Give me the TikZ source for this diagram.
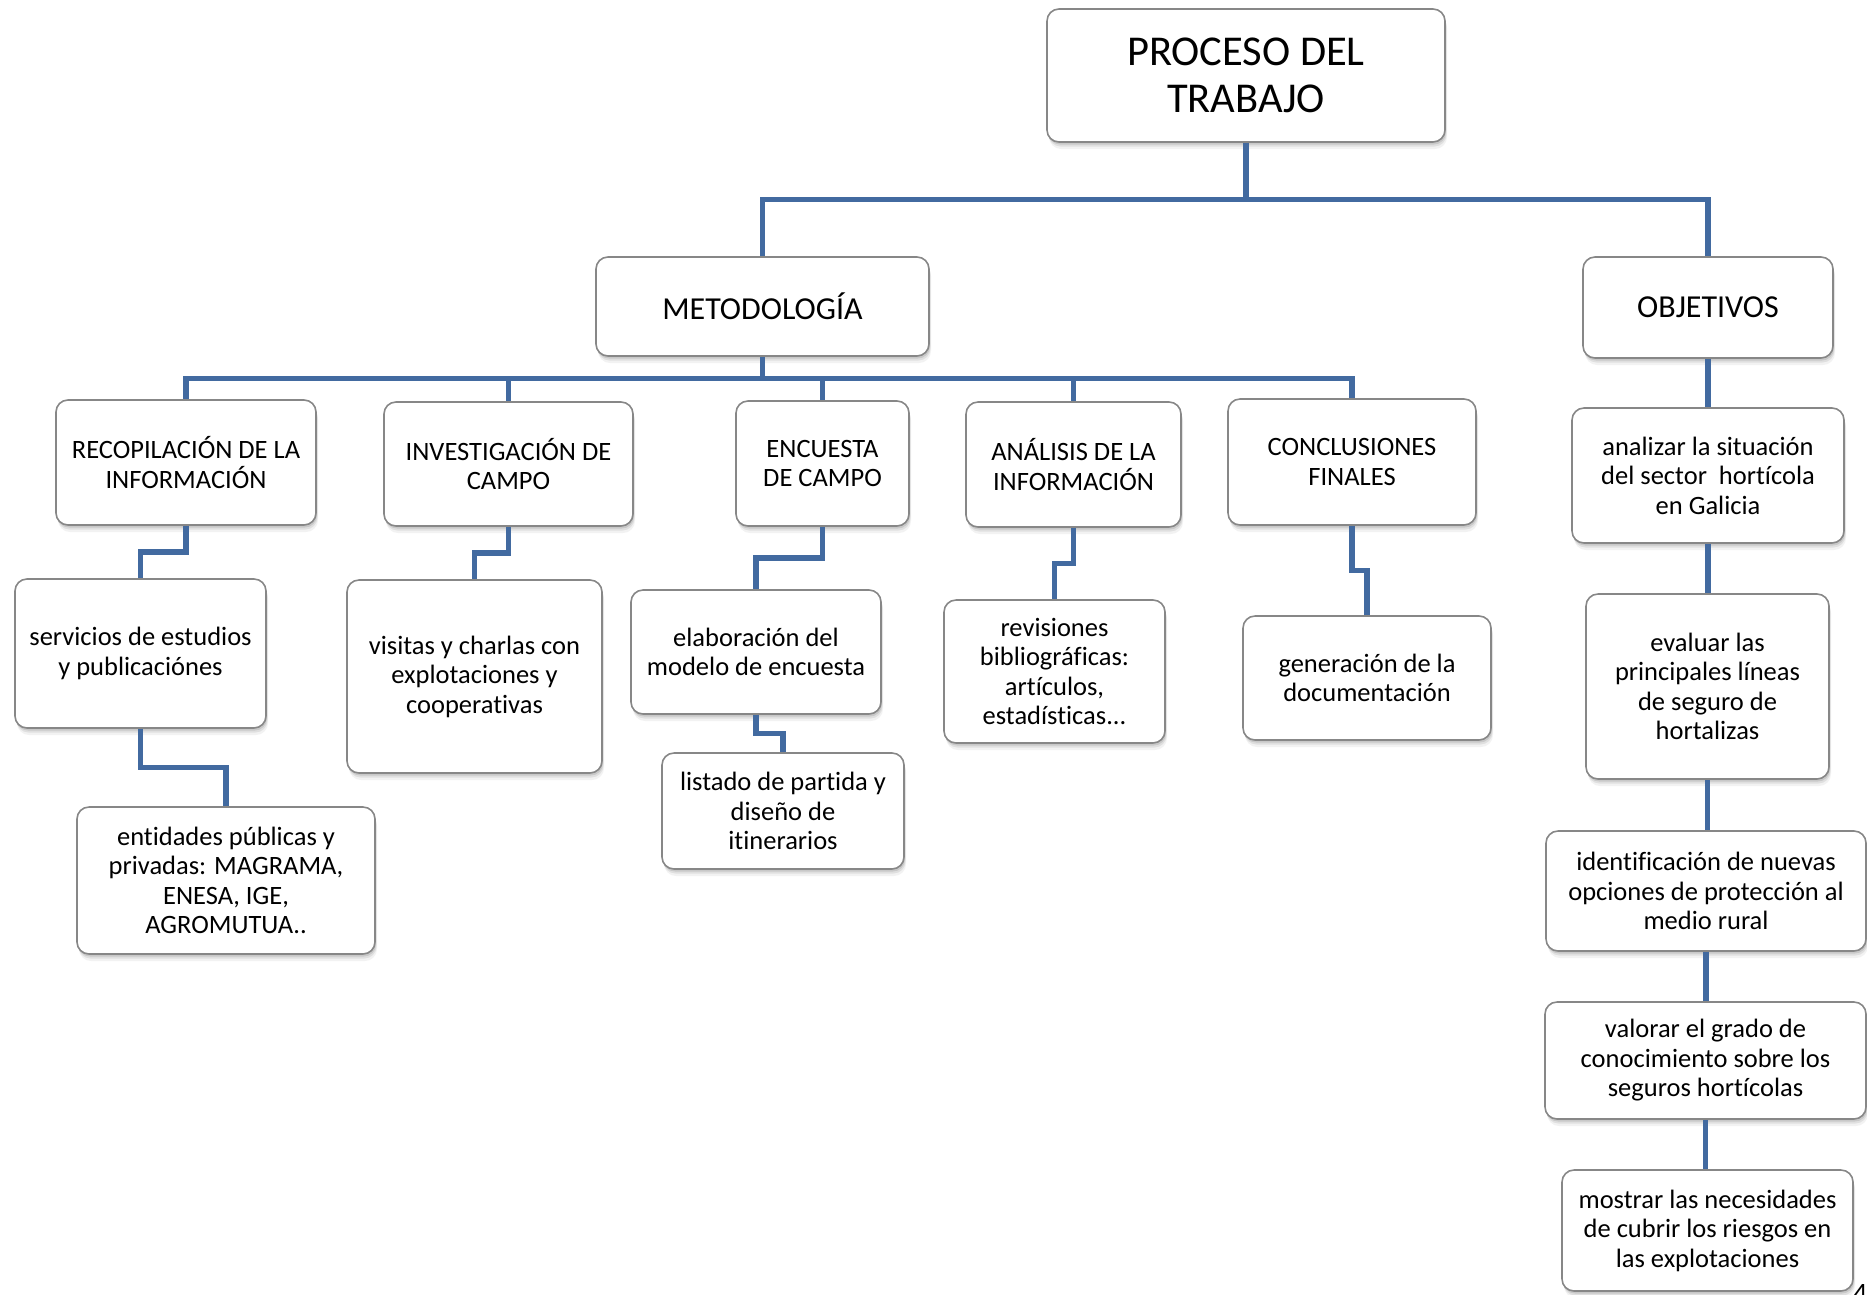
\documentclass[tikz,border=0pt]{standalone}
\usepackage{fontspec}
\setmainfont{Carlito}[Ligatures=CommonOff]
\usetikzlibrary{calc}
\definecolor{linkblue}{RGB}{66,106,160}
\definecolor{boxedge}{RGB}{135,135,135}
\tikzset{
  softshadow/.style={
    preaction={fill=black,opacity=0.10,transform canvas={xshift=1pt,yshift=-2.5pt}},
    preaction={fill=black,opacity=0.08,transform canvas={xshift=1.5pt,yshift=-4.5pt}},
    preaction={fill=black,opacity=0.05,transform canvas={xshift=2pt,yshift=-7pt}}},
  box/.style={softshadow,draw=boxedge,line width=1.6pt,fill=white,rounded corners=12pt,
    inner sep=0pt,align=center,font=\fontsize{26.5}{29.5}\selectfont},
  toplevel/.style={box,font=\fontsize{42.5}{47}\selectfont},
  midlevel/.style={box,font=\fontsize{32}{38}\selectfont},
  conn/.style={draw=linkblue,line width=5.5pt}
}
% a box given by its left, right, top and bottom edges
\newcommand{\boxat}[6]{% style, name, left, right, top, bottom
  \node[#1,minimum width={#4-#3},minimum height={#6-#5}] (#2) at ({(#3+#4)/2},{(#5+#6)/2})}
\begin{document}
\begin{tikzpicture}[x=1pt,y=-1pt]
\useasboundingbox (0,0) rectangle (1867,1294);

% heights of the two horizontal buses
\coordinate (busA) at (0,199.5);
\coordinate (busB) at (0,378.5);

% top level
\boxat{toplevel}{proc}{1047}{1445}{9}{142} {PROCESO DEL\\TRABAJO};
\boxat{midlevel}{met}{596}{929}{257}{356} {METODOLOGÍA};
\boxat{midlevel}{obj}{1583}{1833}{257}{358} {OBJETIVOS};

% methodology steps
\boxat{box}{reco}{56}{316}{400}{525} {RECOPILACIÓN DE LA\\INFORMACIÓN};
\boxat{box}{inv}{384}{633}{402}{526} {INVESTIGACIÓN DE\\CAMPO};
\boxat{box}{enc}{736}{909}{401}{526} {ENCUESTA\\DE CAMPO};
\boxat{box}{ana}{966}{1181}{402}{527} {ANÁLISIS DE LA\\INFORMACIÓN};
\boxat{box}{con}{1228}{1476}{399}{525} {CONCLUSIONES\\FINALES};

\boxat{box}{serv}{15}{266}{579}{728} {servicios de estudios\\y publicaciónes};
\boxat{box}{ent}{77}{375}{807}{954} {entidades públicas y\\privadas: MAGRAMA,\\ENESA, IGE,\\AGROMUTUA..};
\boxat{box}{vis}{347}{602}{580}{773} {visitas y charlas con\\explotaciones y\\cooperativas};
\boxat{box}{elab}{631}{881}{590}{714} {elaboración del\\modelo de encuesta};
\boxat{box}{list}{662}{904}{753}{869} {listado de partida y\\diseño de\\itinerarios};
\boxat{box}{rev}{944}{1165}{600}{743} {revisiones\\bibliográficas:\\artículos,\\estadísticas...};
\boxat{box}{gen}{1243}{1491}{616}{740} {generación de la\\documentación};

% objectives
\boxat{box}{anal}{1572}{1844}{408}{543} {analizar la situación\\del sector\ \ hortícola\\en Galicia};
\boxat{box}{eva}{1586}{1829}{594}{779} {evaluar las\\principales líneas\\de seguro de\\hortalizas};
\boxat{box}{ide}{1546}{1866}{831}{951} {identificación de nuevas\\opciones de protección al\\medio rural};
\boxat{box}{val}{1545}{1866}{1002}{1119} {valorar el grado de\\conocimiento sobre los\\seguros hortícolas};
\boxat{box}{mos}{1562}{1853}{1170}{1291} {mostrar las necesidades\\de cubrir los riesgos en\\las explotaciones};

% tree lines
\draw[conn] (proc.south) -- (proc.south |- busA);
\draw[conn] (met.north) |- (proc.south |- busA) -| (obj.north);

\draw[conn] (met.south) -- (met.south |- busB);
\foreach \c in {reco,inv,enc,ana,con}
  \draw[conn] (met.south |- busB) -| (\c.north);

\foreach \a/\b in {reco/serv,serv/ent,inv/vis,enc/elab,elab/list,ana/rev,con/gen}
  \draw[conn] (\a.south) |- ($(\a.south)!.5!(\b.north)$) -| (\b.north);

\foreach \a/\b in {obj/anal,anal/eva,eva/ide,ide/val,val/mos}
  \draw[conn] (\a.south) -- (\a.south |- \b.north);

% page number in the corner
\node[anchor=base west,inner sep=0pt,font=\fontsize{28}{32}\selectfont] (pgno) at (1853,1302) {4};
\end{tikzpicture}
\end{document}
